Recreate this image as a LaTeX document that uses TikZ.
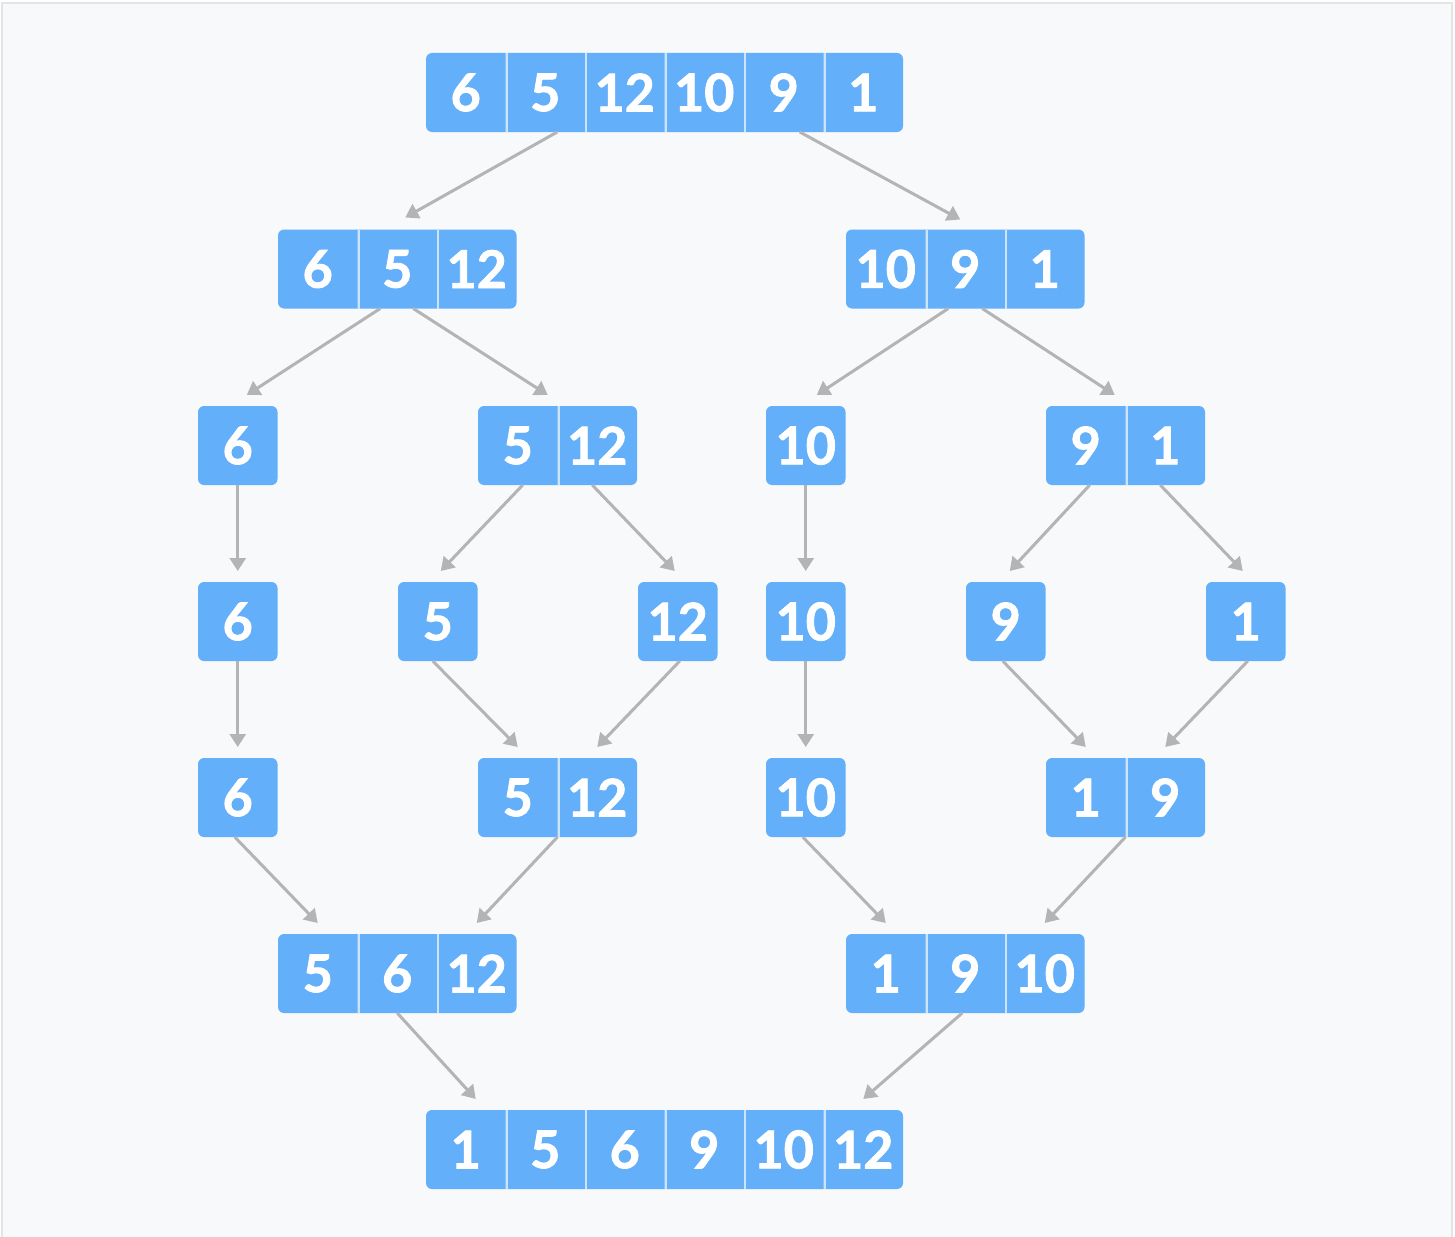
\documentclass[tikz,border=0pt]{standalone}
\usepackage{fontspec}
\setmainfont{Lato}[BoldFeatures={FakeBold=1.6}]
\usepackage{tikz}
\usetikzlibrary{positioning,arrows.meta,fit,backgrounds,calc}
\usepackage{xcolor}

\definecolor{cellblue}{RGB}{100,175,250}
\definecolor{sepblue}{RGB}{205,228,252}
\definecolor{arrowgray}{RGB}{180,180,182}
\definecolor{pagebg}{RGB}{248,249,250}
\definecolor{framegray}{RGB}{226,228,230}

\begin{document}
\begin{tikzpicture}[
        x=0.5pt,
        y=-0.5pt,
        >={Triangle[length=6.5pt,width=8pt]},
        cell/.style={
            rectangle,
            minimum width=39.75pt,
            minimum height=39.5pt,
            inner sep=0pt,
            outer sep=0pt,
            text=white,
            font=\bfseries\fontsize{26}{26}\selectfont
        },
        nxt/.style={
            cell,
            path picture={\draw[sepblue, line width=2pt]
                (path picture bounding box.north west) -- (path picture bounding box.south west);}
        },
        arrbox/.style={fill=cellblue, rounded corners=3pt, inner sep=0pt},
        line/.style={->, draw=arrowgray, line width=1.5pt}
    ]

    \useasboundingbox (0,0) rectangle (1455,1236);

    % ROW 1: INPUT ARRAY
    \node[cell] (t1) at (465.75,92.5) {6};
    \node[nxt, right=0pt of t1] (t2) {5};
    \node[nxt, right=0pt of t2] (t3) {12};
    \node[nxt, right=0pt of t3] (t4) {10};
    \node[nxt, right=0pt of t4] (t5) {9};
    \node[nxt, right=0pt of t5] (t6) {1};

    % ROW 2: FIRST SPLIT
    \node[cell] (l1) at (317.75,269) {6};
    \node[nxt, right=0pt of l1] (l2) {5};
    \node[nxt, right=0pt of l2] (l3) {12};
    \node[cell] (r1) at (885.75,269) {10};
    \node[nxt, right=0pt of r1] (r2) {9};
    \node[nxt, right=0pt of r2] (r3) {1};

    % ROW 3: SECOND SPLIT
    \node[cell] (a1) at (237.75,445.5) {6};
    \node[cell] (m1) at (517.75,445.5) {5};
    \node[nxt, right=0pt of m1] (m2) {12};
    \node[cell] (k1) at (805.75,445.5) {10};
    \node[cell] (n1) at (1085.75,445.5) {9};
    \node[nxt, right=0pt of n1] (n2) {1};

    % ROW 4: SINGLE ELEMENTS
    \node[cell] (c6) at (237.75,621.5) {6};
    \node[cell] (c5) at (437.75,621.5) {5};
    \node[cell] (c12) at (677.75,621.5) {12};
    \node[cell] (c10) at (805.75,621.5) {10};
    \node[cell] (c9) at (1005.75,621.5) {9};
    \node[cell] (c1) at (1245.75,621.5) {1};

    % ROW 5: FIRST MERGE
    \node[cell] (d6) at (237.75,797.5) {6};
    \node[cell] (p1) at (517.75,797.5) {5};
    \node[nxt, right=0pt of p1] (p2) {12};
    \node[cell] (d10) at (805.75,797.5) {10};
    \node[cell] (q1) at (1085.75,797.5) {1};
    \node[nxt, right=0pt of q1] (q2) {9};

    % ROW 6: SECOND MERGE
    \node[cell] (s1) at (317.75,973.5) {5};
    \node[nxt, right=0pt of s1] (s2) {6};
    \node[nxt, right=0pt of s2] (s3) {12};
    \node[cell] (u1) at (885.75,973.5) {1};
    \node[nxt, right=0pt of u1] (u2) {9};
    \node[nxt, right=0pt of u2] (u3) {10};

    % ROW 7: SORTED ARRAY
    \node[cell] (b1) at (465.75,1149.5) {1};
    \node[nxt, right=0pt of b1] (b2) {5};
    \node[nxt, right=0pt of b2] (b3) {6};
    \node[nxt, right=0pt of b3] (b4) {9};
    \node[nxt, right=0pt of b4] (b5) {10};
    \node[nxt, right=0pt of b5] (b6) {12};

    % ============================================================
    % BACKGROUND: page and array boxes
    % ============================================================
    \begin{scope}[on background layer]
        \fill[white] (0,0) rectangle (1455,1236);
        \draw[fill=pagebg, draw=framegray, line width=1pt] (2,3) rectangle (1452,1250);
        \node[arrbox, fit=(t1)(t6)] {};
        \node[arrbox, fit=(l1)(l3)] {};
        \node[arrbox, fit=(r1)(r3)] {};
        \node[arrbox, fit=(a1)] {};
        \node[arrbox, fit=(m1)(m2)] {};
        \node[arrbox, fit=(k1)] {};
        \node[arrbox, fit=(n1)(n2)] {};
        \node[arrbox, fit=(c6)] {};
        \node[arrbox, fit=(c5)] {};
        \node[arrbox, fit=(c12)] {};
        \node[arrbox, fit=(c10)] {};
        \node[arrbox, fit=(c9)] {};
        \node[arrbox, fit=(c1)] {};
        \node[arrbox, fit=(d6)] {};
        \node[arrbox, fit=(p1)(p2)] {};
        \node[arrbox, fit=(d10)] {};
        \node[arrbox, fit=(q1)(q2)] {};
        \node[arrbox, fit=(s1)(s3)] {};
        \node[arrbox, fit=(u1)(u3)] {};
        \node[arrbox, fit=(b1)(b6)] {};
    \end{scope}

    % ============================================================
    % CONNECTIONS: splitting
    % ============================================================
    \draw[line] ($(t2.south)+(12,0)$) -- ($(l2.north)+(8,-12)$);
    \draw[line] ($(t5.south)+(16,0)$) -- ($(r2.north)+(-5,-10)$);
    \draw[line] ($(l2.south)+(-17,0)$) -- ($(a1.north)+(9,-11)$);
    \draw[line] ($(l2.south)+(16,0)$) -- ($(m1.north)+(30,-11)$);
    \draw[line] ($(r2.south)+(-17,0)$) -- ($(k1.north)+(11,-11)$);
    \draw[line] ($(r2.south)+(17,0)$) -- ($(n1.north)+(29,-11)$);
    \draw[line] (a1.south) -- ($(c6.north)+(0,-11)$);
    \draw[line] ($(m1.south)+(5,0)$) -- ($(c5.north)+(3,-11)$);
    \draw[line] ($(m2.south)+(-5,0)$) -- ($(c12.north)+(-3,-11)$);
    \draw[line] (k1.south) -- ($(c10.north)+(0,-11)$);
    \draw[line] ($(n1.south)+(4,0)$) -- ($(c9.north)+(4,-11)$);
    \draw[line] ($(n2.south)+(-5,0)$) -- ($(c1.north)+(-3,-11)$);

    % ============================================================
    % CONNECTIONS: merging
    % ============================================================
    \draw[line] (c6.south) -- ($(d6.north)+(0,-11)$);
    \draw[line] ($(c5.south)+(-5,0)$) -- ($(p1.north)+(0,-11)$);
    \draw[line] ($(c12.south)+(2,0)$) -- ($(p2.north)+(0,-11)$);
    \draw[line] (c10.south) -- ($(d10.north)+(0,-11)$);
    \draw[line] ($(c9.south)+(-3,0)$) -- ($(q1.north)+(0,-11)$);
    \draw[line] ($(c1.south)+(2,0)$) -- ($(q2.north)+(0,-11)$);
    \draw[line] ($(d6.south)+(-3,0)$) -- ($(s1.north)+(0,-11)$);
    \draw[line] (p1.south east) -- ($(s3.north)+(0,-11)$);
    \draw[line] ($(d10.south)+(-3,0)$) -- ($(u1.north)+(0,-11)$);
    \draw[line] (q1.south east) -- ($(u3.north)+(0,-11)$);
    \draw[line] (s2.south) -- ($(b1.north)+(10,-11)$);
    \draw[line] ($(u2.south)+(-3,0)$) -- ($(b6.north)+(0,-11)$);

\end{tikzpicture}
\end{document}
